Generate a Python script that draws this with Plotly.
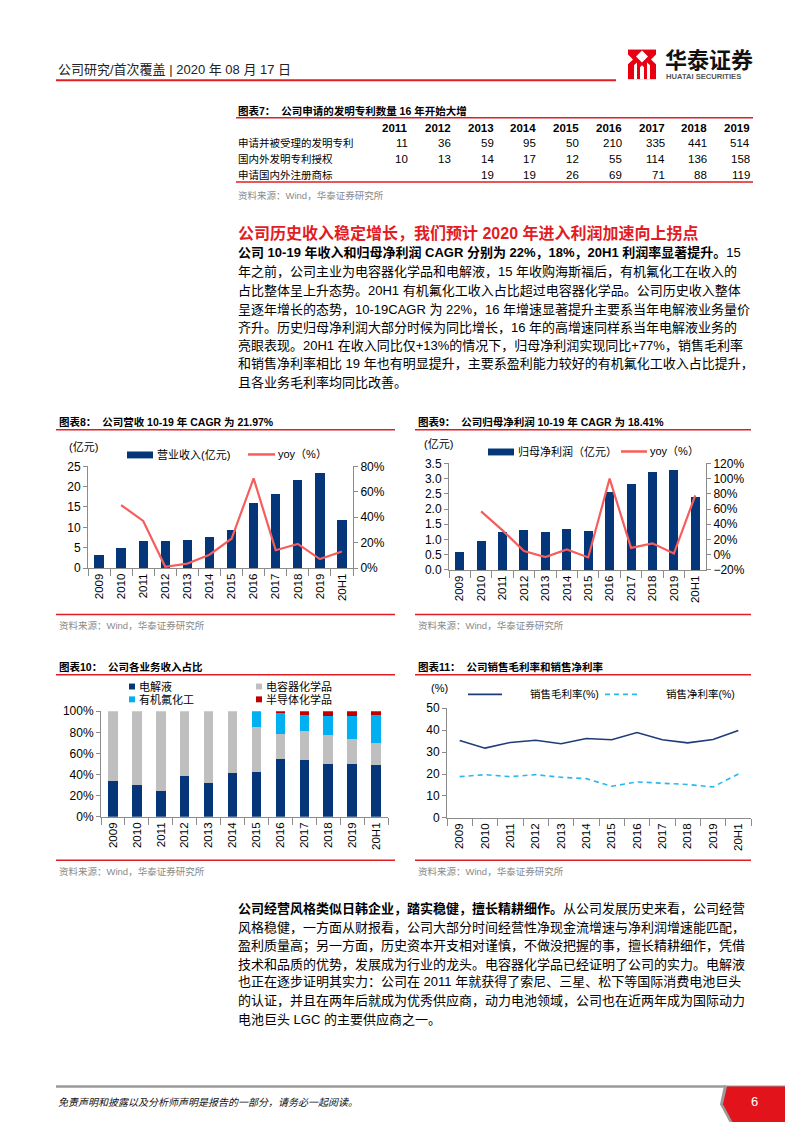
import plotly.graph_objects as go

W, H = 793, 1122

# ---------------- data ----------------
years = ["2009", "2010", "2011", "2012", "2013", "2014", "2015", "2016", "2017", "2018", "2019", "20H1"]
revenue = [3.2, 4.8, 6.6, 6.6, 6.8, 7.5, 9.3, 15.9, 18.1, 21.6, 23.3, 11.9]
revenue_yoy = [None, 49.5, 37.0, 1.0, 3.5, 10.5, 23.0, 70.5, 14.0, 19.0, 7.0, 13.0]
profit = [0.59, 0.95, 1.25, 1.30, 1.26, 1.33, 1.28, 2.57, 2.81, 3.21, 3.27, 2.38]
profit_yoy = [None, 57.0, 32.0, 5.0, -3.0, 7.0, -3.5, 100.0, 9.0, 15.0, 1.5, 78.0]

share_electrolyte = [34.0, 30.0, 24.5, 38.5, 32.0, 41.5, 42.3, 55.0, 53.6, 50.2, 50.2, 48.9]
share_capacitor = [66.0, 70.0, 75.5, 61.5, 68.0, 58.5, 42.7, 23.7, 27.3, 26.9, 23.2, 21.3]
share_fluoro = [None, None, None, None, None, None, 15.0, 20.0, 15.6, 18.5, 21.9, 26.0]
share_semi = [None, None, None, None, None, None, None, 1.3, 3.5, 4.4, 4.7, 3.8]

gross_margin = [35.3, 31.8, 34.4, 35.4, 33.8, 36.2, 35.6, 38.9, 35.6, 34.2, 35.7, 39.9]
net_margin = [18.8, 19.7, 18.8, 19.7, 18.5, 17.9, 14.4, 16.4, 15.8, 15.2, 14.1, 20.0]

table_years = ["2011", "2012", "2013", "2014", "2015", "2016", "2017", "2018", "2019"]
table_rows = ["申请并被受理的发明专利", "国内外发明专利授权", "申请国内外注册商标"]
patents_applied = [11, 36, 59, 95, 50, 210, 335, 441, 514]
patents_granted = [10, 13, 14, 17, 12, 55, 114, 136, 158]
trademarks = [None, None, 19, 19, 26, 69, 71, 88, 119]

header_text = "公司研究/首次覆盖 | 2020 年 08 月 17 日"
table_title = "图表7：  公司申请的发明专利数量 16 年开始大增"
source_text = "资料来源：Wind，华泰证券研究所"
heading = "公司历史收入稳定增长，我们预计 2020 年进入利润加速向上拐点"
para1 = [
    "<b>公司 10-19 年收入和归母净利润 CAGR 分别为 22%，18%，20H1 利润率显著提升。</b>15",
    "年之前，公司主业为电容器化学品和电解液，15 年收购海斯福后，有机氟化工在收入的",
    "占比整体呈上升态势。20H1 有机氟化工收入占比超过电容器化学品。公司历史收入整体",
    "呈逐年增长的态势，10-19CAGR 为 22%，16 年增速显著提升主要系当年电解液业务量价",
    "齐升。历史归母净利润大部分时候为同比增长，16 年的高增速同样系当年电解液业务的",
    "亮眼表现。20H1 在收入同比仅+13%的情况下，归母净利润实现同比+77%，销售毛利率",
    "和销售净利率相比 19 年也有明显提升，主要系盈利能力较好的有机氟化工收入占比提升，",
    "且各业务毛利率均同比改善。",
]
para2 = [
    "<b>公司经营风格类似日韩企业，踏实稳健，擅长精耕细作。</b>从公司发展历史来看，公司经营",
    "风格稳健，一方面从财报看，公司大部分时间经营性净现金流增速与净利润增速能匹配，",
    "盈利质量高；另一方面，历史资本开支相对谨慎，不做没把握的事，擅长精耕细作，凭借",
    "技术和品质的优势，发展成为行业的龙头。电容器化学品已经证明了公司的实力。电解液",
    "也正在逐步证明其实力：公司在 2011 年就获得了索尼、三星、松下等国际消费电池巨头",
    "的认证，并且在两年后就成为优秀供应商，动力电池领域，公司也在近两年成为国际动力",
    "电池巨头 LGC 的主要供应商之一。",
]
chart_titles = [
    "图表8：  公司营收 10-19 年 CAGR 为 21.97%",
    "图表9：  公司归母净利润 10-19 年 CAGR 为 18.41%",
    "图表10：  公司各业务收入占比",
    "图表11：  公司销售毛利率和销售净利率",
]
footer_text = "免责声明和披露以及分析师声明是报告的一部分，请务必一起阅读。"

# ---------------- style ----------------
FONT = "Liberation Sans, Noto Sans CJK SC, sans-serif"
NAVY = "#043679"
SALMON = "#f65d5d"
GRAY = "#bfbfbf"
CYAN = "#00b0f0"
DARKRED = "#c00000"
RED = "#e31c23"
AXC = "#8c8c8c"


def px(x):
    return x / W


def py(y):
    return 1 - y / H


shapes = []
annots = []


def hline(x0, x1, y, color=RED, width=1.5, dash="solid"):
    shapes.append(dict(type="line", xref="paper", yref="paper", x0=px(x0), x1=px(x1),
                       y0=py(y), y1=py(y), line=dict(color=color, width=width, dash=dash)))


def rect(x0, y0, x1, y1, color):
    shapes.append(dict(type="rect", xref="paper", yref="paper", x0=px(x0), x1=px(x1),
                       y0=py(y1), y1=py(y0), fillcolor=color, line=dict(width=0)))


def path(points, color, line_color=None, lw=0):
    d = "M " + " L ".join(f"{px(a):.5f},{py(b):.5f}" for a, b in points) + " Z"
    shapes.append(dict(type="path", xref="paper", yref="paper", path=d, fillcolor=color,
                       line=dict(width=lw, color=line_color or color)))


def text(x, y, t, size=13, color="#000000", xanchor="left", family=FONT):
    annots.append(dict(x=px(x), y=py(y), xref="paper", yref="paper", text=t, showarrow=False,
                       xanchor=xanchor, yanchor="middle", align="left",
                       font=dict(family=family, size=size, color=color)))


fig = go.Figure()

# ---------------- chart 8 ----------------
fig.add_trace(go.Bar(x=years, y=revenue, xaxis="x", yaxis="y", width=0.42,
                     marker=dict(color=NAVY, line=dict(width=0)), showlegend=False))
fig.add_trace(go.Scatter(x=years, y=revenue_yoy, xaxis="x", yaxis="y2", mode="lines",
                         line=dict(color=SALMON, width=2.2), showlegend=False))
# ---------------- chart 9 ----------------
fig.add_trace(go.Bar(x=years, y=profit, xaxis="x2", yaxis="y3", width=0.42,
                     marker=dict(color=NAVY, line=dict(width=0)), showlegend=False))
fig.add_trace(go.Scatter(x=years, y=profit_yoy, xaxis="x2", yaxis="y4", mode="lines",
                         line=dict(color=SALMON, width=2.2), showlegend=False))
# ---------------- chart 10 ----------------
for vals, col in [(share_electrolyte, NAVY), (share_capacitor, GRAY),
                  (share_fluoro, CYAN), (share_semi, DARKRED)]:
    fig.add_trace(go.Bar(x=years, y=vals, xaxis="x3", yaxis="y5", width=0.4,
                         marker=dict(color=col, line=dict(width=0)), showlegend=False))
# ---------------- chart 11 ----------------
fig.add_trace(go.Scatter(x=years, y=gross_margin, xaxis="x4", yaxis="y6", mode="lines",
                         line=dict(color="#1d3c78", width=1.6), showlegend=False))
fig.add_trace(go.Scatter(x=years, y=net_margin, xaxis="x4", yaxis="y6", mode="lines",
                         line=dict(color="#2ab7f0", width=1.6, dash="5px,4px"), showlegend=False))

AX = dict(showline=True, linecolor=AXC, linewidth=1, ticks="outside", tickcolor=AXC,
          ticklen=4, showgrid=False, zeroline=False, fixedrange=True,
          tickfont=dict(family=FONT, size=12, color="#000000"))
XAX = dict(AX, type="category", tickangle=-90, tickson="boundaries", ticklen=7,
           range=[-0.5, 11.5], tickfont=dict(family=FONT, size=11.5, color="#000000"))

fig.update_layout(
    width=W, height=H, margin=dict(l=0, r=0, t=0, b=0),
    paper_bgcolor="white", plot_bgcolor="white", barmode="stack", showlegend=False,
    font=dict(family=FONT),
    xaxis=dict(XAX, domain=[px(80), px(345)], anchor="y"),
    yaxis=dict(AX, domain=[py(560), py(457)], anchor="x", range=[0, 25], dtick=5),
    yaxis2=dict(AX, overlaying="y", side="right", anchor="x", range=[0, 80], dtick=20,
                ticksuffix="%"),
    xaxis2=dict(XAX, domain=[px(441), px(698)], anchor="y3"),
    yaxis3=dict(AX, domain=[py(562), py(454)], anchor="x2", range=[0, 3.5], dtick=0.5,
                tickformat=".1f"),
    yaxis4=dict(AX, overlaying="y3", side="right", anchor="x2", range=[-20, 120], dtick=20,
                ticksuffix="%"),
    xaxis3=dict(XAX, domain=[px(93), px(380)], anchor="y5"),
    yaxis5=dict(AX, domain=[py(812), py(705)], anchor="x3", range=[0, 100], dtick=20,
                ticksuffix="%"),
    xaxis4=dict(XAX, domain=[px(439), px(743)], anchor="y6"),
    yaxis6=dict(AX, domain=[py(813), py(702)], anchor="x4", range=[0, 50], dtick=10),
)

# ---------------- page header ----------------
text(48, 55, header_text, size=13, color="#222222")
hline(48, 608, 66, color=RED, width=2)
# logo icon
rect(620, 35, 648, 65, "#e60012")
path([(634, 36), (640, 42), (634, 48), (628, 42)], "white")
path([(620, 40), (625, 45), (620, 50)], "white")
path([(648, 40), (643, 45), (648, 50)], "white")
path([(626, 51), (629, 48), (629, 65), (626, 65)], "white")
path([(639, 48), (642, 51), (642, 65), (639, 65)], "white")
path([(632, 53), (634, 51), (636, 53), (636, 65), (632, 65)], "white")
text(655, 44, "<b>华泰证券</b>", size=22, color="#111111", family="Noto Sans CJK SC")
text(656, 62, "<b>HUATAI SECURITIES</b>", size=7.6, color="#555555")

# ---------------- table (chart 7) ----------------
text(228, 97, "<b>" + table_title + "</b>", size=10.5)
hline(228, 745, 104, width=1.5)
col_right = [402, 445, 488, 530, 573, 616, 659, 701, 744]
for xr, yr in zip(col_right, table_years):
    text(xr, 114, "<b>" + yr + "</b>", size=11.5, xanchor="right")
for ry, label, vals in zip([130, 146, 162], table_rows,
                           [patents_applied, patents_granted, trademarks]):
    text(228, ry, label, size=10.5)
    for xr, v in zip(col_right, vals):
        if v is not None:
            text(xr, ry, str(v), size=11.5, xanchor="right")
hline(228, 745, 169, width=1.5)
text(228, 183, source_text, size=9.5, color="#8a8a8a")

# ---------------- paragraph 1 ----------------
text(228, 221, "<b>" + heading + "</b>", size=16, color=RED)
for yy, line in zip([241, 260, 279, 298, 316, 335, 353, 372], para1):
    text(228, yy, line, size=13)

# ---------------- chart frames ----------------
frames = [(48, 387, 412, 420, 607, 618), (407, 743, 412, 420, 607, 618),
          (48, 387, 660, 668, 856, 867), (407, 743, 660, 668, 856, 867)]
for (x0, x1, ty, tl, bl, sy), title in zip(frames, chart_titles):
    text(x0 + 1, ty, "<b>" + title + "</b>", size=10.5)
    hline(x0, x1, tl, width=1.5)
    hline(x0, x1, bl, width=1.5)
    text(x0 + 1, sy, source_text, size=9.5, color="#8a8a8a")

# chart 8 legend / unit
text(59, 437, "(亿元)", size=11)
rect(119, 442, 145, 449, NAVY)
text(147, 445, "营业收入(亿元)", size=11)
hline(240, 267, 445, color=SALMON, width=2.5)
text(268, 445, "yoy（%）", size=11)

# chart 9 legend / unit
text(414, 434, "(亿元)", size=11)
rect(480, 439, 506, 446, NAVY)
text(508, 442, "归母净利润（亿元）", size=11)
hline(613, 639, 442, color=SALMON, width=2.5)
text(640, 442, "yoy（%）", size=11)

# chart 10 legend
for (lx, ly), col, name in zip([(121, 680), (248, 680), (121, 693), (248, 693)],
                               [NAVY, GRAY, CYAN, DARKRED],
                               ["电解液", "电容器化学品", "有机氟化工", "半导体化学品"]):
    rect(lx, ly - 3, lx + 6, ly + 3, col)
    text(lx + 8, ly, name, size=11)

# chart 11 legend / unit
text(421, 682, "(%)", size=11)
hline(460, 494, 688, color="#1d3c78", width=1.6)
text(520, 688, "销售毛利率(%)", size=10.5)
hline(597, 631, 688, color="#2ab7f0", width=1.6, dash="5px,4px")
text(656, 688, "销售净利率(%)", size=10.5)

# ---------------- paragraph 2 ----------------
for yy, line in zip([905, 924, 943, 961, 979, 998, 1017], para2):
    text(228, yy, line, size=13)

# ---------------- footer ----------------
hline(48, 718, 1085, color="#9a9a9a", width=2.5)
path([(716, 1084), (793, 1084), (793, 1122), (722, 1122), (712, 1103)], "#9a9a9a")
path([(719, 1085), (793, 1085), (793, 1122), (725, 1122), (715, 1103)], "#e3131b")
text(741, 1100, "6", size=13, color="white")
text(48, 1101, "<i>" + footer_text + "</i>", size=10, color="#111111")

fig.update_layout(shapes=shapes, annotations=annots)
fig.write_html("out.html")
